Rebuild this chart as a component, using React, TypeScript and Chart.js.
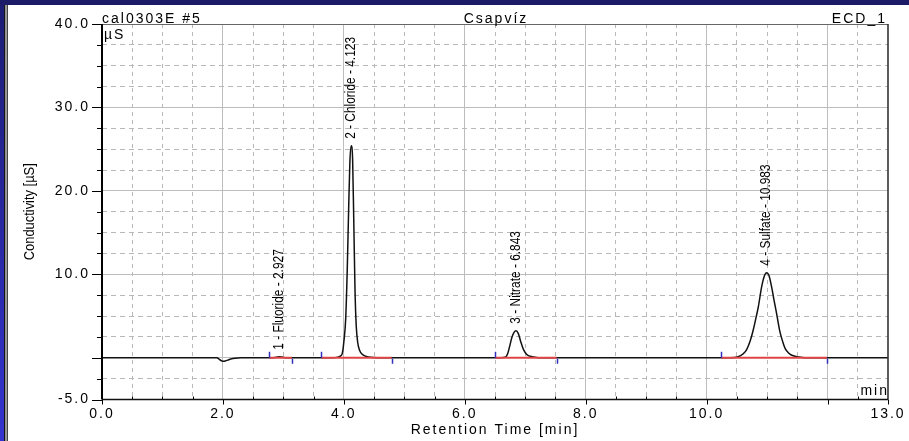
import React, { useEffect, useRef } from 'react';
import { Chart, registerables } from 'chart.js';

Chart.register(...registerables);

const FONT = "'Liberation Sans', Arial, Helvetica, sans-serif";

// ---- Chromatogram (retention time in min, conductivity in µS) ----
const retentionTime = [
  0, 1.9, 1.93, 1.97, 2.0, 2.04, 2.08, 2.13, 2.2, 2.3,
  2.8, 2.88, 2.93, 2.98, 3.05,
  3.8, 3.9, 3.95, 3.975, 4.0, 4.03, 4.055, 4.08, 4.1, 4.123, 4.145, 4.165, 4.185, 4.205, 4.23, 4.26, 4.3, 4.36, 4.44, 4.55,
  6.6, 6.68, 6.71, 6.74, 6.78, 6.815, 6.847, 6.886, 6.925, 6.97, 7.025, 7.08, 7.15, 7.25,
  10.4, 10.52, 10.6, 10.66, 10.72, 10.77, 10.82, 10.855, 10.91, 10.955, 10.99, 11.03, 11.075, 11.11, 11.15, 11.21, 11.26, 11.3, 11.36, 11.41, 11.52, 11.62,
  13,
];
const conductivity = [
  0, 0, -0.12, -0.35, -0.42, -0.38, -0.28, -0.15, -0.05, 0,
  0, 0.06, 0.12, 0.08, 0,
  0, 0.08, 0.25, 0.55, 1.9, 4.6, 10.2, 18.0, 23.5, 25.4, 23.8, 16.0, 8.0, 3.8, 1.8, 0.9, 0.45, 0.18, 0.05, 0,
  0, 0.1, 0.5, 1.3, 2.45, 3.05, 3.25, 2.9, 1.95, 1.0, 0.4, 0.18, 0.08, 0,
  0, 0.12, 0.45, 0.95, 2.0, 3.3, 4.9, 6.1, 8.5, 9.8, 10.2, 9.9, 8.5, 7.1, 5.6, 3.2, 1.9, 1.1, 0.55, 0.3, 0.1, 0,
  0,
];

// ---- Peak table ----
const peakNames = ['Fluoride', 'Chloride', 'Nitrate', 'Sulfate'];
const peakTimes = [2.927, 4.123, 6.843, 10.983];
const peakStarts = [2.77, 3.63, 6.5, 10.24];
const peakEnds = [3.14, 4.79, 7.52, 11.99];

// ---- Axes ----
const xMin = 0;
const xMax = 13;
const xStep = 0.5;
const yMin = -5;
const yMax = 40;
const yStep = 2.5;
const xLabelValues = [0, 2, 4, 6, 8, 10, 13];
const yLabelValues = [-5, 10, 20, 30, 40];
const xMajorValues = [0, 2, 4, 6, 8, 10, 12, 13];
const yMajorValues = [-5, 0, 10, 20, 30, 40];

// ---- Texts ----
const sampleName = 'cal0303E #5';
const chartTitle = 'Csapvíz';
const channelName = 'ECD_1';
const xTitle = 'Retention Time [min]';
const yTitle = 'Conductivity [µS]';
const yUnit = 'µS';
const xUnit = 'min';

const near = (a: number, b: number) => Math.abs(a - b) < 1e-6;
const inList = (v: number, list: number[]) => list.some((x) => near(x, v));

const decorPlugin = {
  id: 'decor',
  beforeDraw(chart: any) {
    const ctx = chart.ctx as CanvasRenderingContext2D;
    const W = chart.width;
    const H = chart.height;
    ctx.save();
    ctx.fillStyle = '#ffffff';
    ctx.fillRect(0, 0, W, H);
    const g = ctx.createLinearGradient(0, 0, 0, H);
    g.addColorStop(0, '#1c1c74');
    g.addColorStop(1, '#3434d0');
    ctx.fillStyle = g;
    ctx.fillRect(0, 0, 4, H);
    ctx.fillStyle = '#1b1b68';
    ctx.fillRect(0, 0, W, 5);
    ctx.fillStyle = '#151515';
    ctx.fillRect(4, 5, 1.5, H - 5);
    ctx.fillStyle = '#9a9a9a';
    ctx.fillRect(5.5, 5, 1.5, H - 5);
    ctx.fillStyle = '#444444';
    ctx.fillRect(7, 5, 1, H - 5);
    ctx.restore();
    (ctx as any).letterSpacing = '2px';
  },
  afterDraw(chart: any) {
    const ctx = chart.ctx as CanvasRenderingContext2D;
    const xs = chart.scales.x;
    const ys = chart.scales.y;
    const { left, right, top, bottom } = chart.chartArea;
    ctx.save();
    (ctx as any).letterSpacing = '0px';

    // integration delimiters
    const y0 = ys.getPixelForValue(0);
    ctx.strokeStyle = '#3030b8';
    ctx.lineWidth = 1.5;
    peakStarts.forEach((s, i) => {
      const xa = Math.round(xs.getPixelForValue(s)) + 0.5;
      ctx.beginPath();
      ctx.moveTo(xa, y0 - 6);
      ctx.lineTo(xa, y0);
      ctx.stroke();
      const xb = Math.round(xs.getPixelForValue(peakEnds[i])) + 0.5;
      ctx.beginPath();
      ctx.moveTo(xb, y0 + 1);
      ctx.lineTo(xb, y0 + 6);
      ctx.stroke();
    });

    // tick marks
    ctx.strokeStyle = '#000';
    ctx.lineWidth = 1;
    ys.ticks.forEach((t: any) => {
      const y = Math.round(ys.getPixelForValue(t.value)) + 0.5;
      const major = inList(t.value, yMajorValues);
      ctx.beginPath();
      ctx.moveTo(left - (major ? 10 : 5), y);
      ctx.lineTo(left, y);
      ctx.stroke();
    });
    xs.ticks.forEach((t: any) => {
      const x = Math.round(xs.getPixelForValue(t.value)) + 0.5;
      const major = inList(t.value, xMajorValues);
      ctx.beginPath();
      if (major) {
        ctx.moveTo(x, bottom);
        ctx.lineTo(x, bottom + 5);
      } else {
        ctx.moveTo(x, bottom - 3);
        ctx.lineTo(x, bottom);
      }
      ctx.stroke();
    });

    // frame
    ctx.strokeStyle = '#666';
    ctx.lineWidth = 1;
    ctx.beginPath();
    ctx.moveTo(left, Math.round(top) + 0.5);
    ctx.lineTo(right, Math.round(top) + 0.5);
    ctx.stroke();
    ctx.strokeStyle = '#333';
    ctx.lineWidth = 1.6;
    ctx.beginPath();
    ctx.moveTo(right, top);
    ctx.lineTo(right, bottom);
    ctx.stroke();
    ctx.strokeStyle = '#111';
    ctx.lineWidth = 1.6;
    ctx.beginPath();
    ctx.moveTo(left, bottom);
    ctx.lineTo(right, bottom);
    ctx.stroke();
    ctx.strokeStyle = '#000';
    ctx.lineWidth = 2;
    ctx.beginPath();
    ctx.moveTo(left, top);
    ctx.lineTo(left, bottom);
    ctx.stroke();

    // peak labels
    ctx.fillStyle = '#000';
    ctx.font = `14px ${FONT}`;
    ctx.textAlign = 'left';
    ctx.textBaseline = 'middle';
    peakNames.forEach((name, i) => {
      let apex = 0;
      retentionTime.forEach((t, k) => {
        if (t >= peakStarts[i] && t <= peakEnds[i]) apex = Math.max(apex, conductivity[k]);
      });
      const x = xs.getPixelForValue(peakTimes[i]);
      const y = ys.getPixelForValue(apex) - 7;
      ctx.save();
      ctx.translate(x, y);
      ctx.rotate(-Math.PI / 2);
      ctx.scale(0.85, 1);
      ctx.fillText(`${i + 1} - ${name} - ${peakTimes[i].toFixed(3)}`, 0, 0);
      ctx.restore();
    });

    // y title
    ctx.save();
    ctx.translate(30, (top + bottom) / 2);
    ctx.rotate(-Math.PI / 2);
    ctx.scale(0.86, 1);
    ctx.font = `15px ${FONT}`;
    ctx.textAlign = 'center';
    ctx.textBaseline = 'middle';
    ctx.fillText(yTitle, 0, 0);
    ctx.restore();

    // header texts and units
    (ctx as any).letterSpacing = '2px';
    ctx.font = `14px ${FONT}`;
    ctx.textBaseline = 'alphabetic';
    ctx.textAlign = 'left';
    ctx.fillText(sampleName, left, 23);
    ctx.textAlign = 'center';
    ctx.fillText(chartTitle, (left + right) / 2 + 1, 23);
    ctx.textAlign = 'right';
    ctx.fillText(channelName, right - 1, 23);
    ctx.textAlign = 'left';
    ctx.fillText(yUnit, left + 2, 39);
    ctx.textAlign = 'right';
    ctx.fillText(xUnit, right + 1, 395);
    ctx.restore();
    (ctx as any).letterSpacing = '0px';
  },
};

export default function App() {
  const canvasRef = useRef<HTMLCanvasElement | null>(null);

  useEffect(() => {
    const canvas = canvasRef.current;
    if (!canvas) return;

    const signal = retentionTime.map((t, i) => ({ x: t, y: conductivity[i] }));
    const baselines = peakStarts.map((s, i) => ({
      label: `baseline ${peakNames[i]}`,
      data: [
        { x: s, y: 0 },
        { x: peakEnds[i], y: 0 },
      ],
      borderColor: '#e04444',
      borderWidth: 2,
      pointRadius: 0,
      order: 1,
    }));

    const chart = new Chart(canvas, {
      type: 'line',
      data: {
        datasets: [
          {
            label: 'ECD_1',
            data: signal,
            borderColor: '#111',
            borderWidth: 1.5,
            pointRadius: 0,
            cubicInterpolationMode: 'monotone',
            order: 2,
          },
          ...baselines,
        ],
      },
      options: {
        responsive: false,
        maintainAspectRatio: false,
        devicePixelRatio: 1,
        animation: false,
        events: [],
        layout: { padding: { top: 24, right: 21, left: 0, bottom: 0 } },
        plugins: {
          legend: { display: false },
          tooltip: { enabled: false },
        },
        scales: {
          x: {
            type: 'linear',
            min: xMin,
            max: xMax,
            afterFit: (s: any) => {
              s.height = 41.5;
            },
            ticks: {
              stepSize: xStep,
              autoSkip: false,
              maxRotation: 0,
              padding: 6,
              color: '#000',
              font: { family: FONT, size: 14 },
              callback: (v: any) => (inList(Number(v), xLabelValues) ? Number(v).toFixed(1) : ''),
            },
            grid: {
              drawTicks: false,
              lineWidth: 1,
              color: (c: any) => {
                const v = c.tick ? c.tick.value : NaN;
                if (isNaN(v) || near(v, xMin) || near(v, xMax)) return 'rgba(0,0,0,0)';
                return inList(v, xMajorValues) ? '#bdbdbd' : '#b8b8b8';
              },
            },
            border: {
              display: false,
              dash: (c: any) => (c.tick && !inList(c.tick.value, xMajorValues) ? [4, 4] : []),
            },
            title: {
              display: true,
              text: xTitle,
              color: '#000',
              font: { family: FONT, size: 14 },
              padding: { top: 0, bottom: 2.6 },
            },
          },
          y: {
            type: 'linear',
            min: yMin,
            max: yMax,
            afterFit: (s: any) => {
              s.width = 102;
            },
            ticks: {
              stepSize: yStep,
              autoSkip: false,
              padding: 12,
              color: '#000',
              font: { family: FONT, size: 14 },
              callback: (v: any) => (inList(Number(v), yLabelValues) ? Number(v).toFixed(1) : ''),
            },
            grid: {
              drawTicks: false,
              lineWidth: 1,
              color: (c: any) => {
                const v = c.tick ? c.tick.value : NaN;
                if (isNaN(v) || near(v, yMin) || near(v, yMax)) return 'rgba(0,0,0,0)';
                return inList(v, yMajorValues) ? '#bdbdbd' : '#b8b8b8';
              },
            },
            border: {
              display: false,
              dash: (c: any) => (c.tick && !inList(c.tick.value, yMajorValues) ? [5, 4] : []),
            },
          },
        },
      },
      plugins: [decorPlugin],
    } as any);

    return () => chart.destroy();
  }, []);

  return (
    <div style={{ position: 'absolute', left: 0, top: 0, width: 909, height: 441, background: '#fff' }}>
      <canvas ref={canvasRef} width={909} height={441} style={{ display: 'block', width: 909, height: 441 }} />
    </div>
  );
}
